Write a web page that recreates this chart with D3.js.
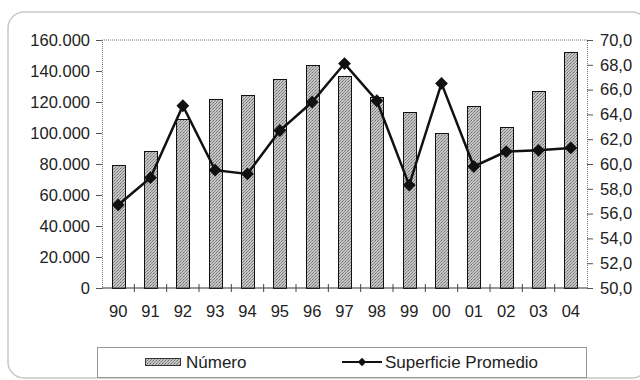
<!DOCTYPE html>
<html>
<head>
<meta charset="utf-8">
<script src="https://cdn.jsdelivr.net/npm/d3@7"></script>
<style>
  body { margin: 0; background: #fff; }
  svg { display: block; font-family: "Liberation Sans", Arial, sans-serif; }
</style>
</head>
<body>
<div id="chart"></div>
<script>
(function() {
    'use strict';

    // data
    const years = ["90", "91", "92", "93", "94", "95", "96", "97", "98", "99", "00", "01", "02", "03", "04"];
    const numero = [79500, 88500, 108800, 121700, 124500, 135000, 143900, 136800, 123000, 113700, 99800, 117400, 104100, 127300, 152300];
    const superficie = [56.7, 58.9, 64.7, 59.5, 59.2, 62.7, 65.0, 68.1, 65.1, 58.3, 66.5, 59.8, 61.0, 61.1, 61.3];
    const leftTicks = [0, 20000, 40000, 60000, 80000, 100000, 120000, 140000, 160000];
    const rightTicks = [50, 52, 54, 56, 58, 60, 62, 64, 66, 68, 70];

    const width = 640;
    const height = 380;
    const marginTop = 40;
    const marginBottom = 92;
    const marginLeft = 102;
    const marginRight = 53;

    const svg = d3.select("#chart")
        .append("svg")
        .attr("width", width)
        .attr("height", height);

    // bar texture
    const pat = svg.append("defs").append("pattern")
        .attr("id", "dots")
        .attr("width", 3)
        .attr("height", 3)
        .attr("patternUnits", "userSpaceOnUse");
    pat.append("rect").attr("width", 3).attr("height", 3).attr("fill", "#c4c4c4");
    pat.append("rect").attr("width", 1).attr("height", 1).attr("fill", "#6e6e6e");
    pat.append("rect").attr("x", 2).attr("y", 1).attr("width", 1).attr("height", 1).attr("fill", "#8c8c8c");
    pat.append("rect").attr("x", 1).attr("y", 2).attr("width", 1).attr("height", 1).attr("fill", "#8c8c8c");

    // outer frame
    svg.append("rect")
        .attr("x", 8).attr("y", 12)
        .attr("width", 640).attr("height", 366)
        .attr("rx", 16)
        .attr("fill", "none")
        .attr("stroke", "#c8c8c8")
        .attr("stroke-width", 1.5);

    // X SCALE
    const x = d3.scaleBand()
        .domain(years)
        .range([marginLeft, width - marginRight]);

    // Y SCALES
    const y = d3.scaleLinear()
        .domain([0, 160000])
        .range([height - marginBottom, marginTop]);

    const y2 = d3.scaleLinear()
        .domain([50, 70])
        .range([height - marginBottom, marginTop]);

    // top dotted border
    svg.append("line")
        .attr("x1", marginLeft).attr("x2", width - marginRight)
        .attr("y1", marginTop).attr("y2", marginTop)
        .attr("stroke", "#777")
        .attr("stroke-dasharray", "1,1");

    // LEFT AXIS
    svg.append("g")
        .attr("transform", `translate(${marginLeft}, 0)`)
        .call(d3.axisLeft(y)
            .tickValues(leftTicks)
            .tickSize(6)
            .tickPadding(6)
            .tickFormat(d => d3.format(",")(d).replace(/,/g, ".")))
        .call(g => g.selectAll("path").attr("stroke", "#777").attr("stroke-dasharray", "1,1"))
        .call(g => g.selectAll("line").attr("stroke", "#555"))
        .selectAll("text")
        .attr("fill", "#222")
        .attr("font-size", "16.5px")
        .attr("font-family", "Liberation Sans, Arial, sans-serif");

    // RIGHT AXIS
    svg.append("g")
        .attr("transform", `translate(${width - marginRight}, 0)`)
        .call(d3.axisRight(y2)
            .tickValues(rightTicks)
            .tickSize(6)
            .tickPadding(7)
            .tickFormat(d => d3.format(".1f")(d).replace(".", ",")))
        .call(g => g.selectAll("path").attr("stroke", "#777").attr("stroke-dasharray", "1,1"))
        .call(g => g.selectAll("line").attr("stroke", "#555"))
        .selectAll("text")
        .attr("fill", "#222")
        .attr("font-size", "16.5px")
        .attr("font-family", "Liberation Sans, Arial, sans-serif");

    // BARS
    svg.append("g")
        .selectAll("rect")
        .data(numero)
        .join("rect")
        .attr("x", (d, i) => Math.round(x(years[i]) + x.bandwidth() / 2 - 6.5) + 0.5)
        .attr("y", d => Math.round(y(d)) + 0.5)
        .attr("width", 13)
        .attr("height", d => y(0) - Math.round(y(d)))
        .attr("fill", "url(#dots)")
        .attr("stroke", "#111")
        .attr("stroke-width", 1);

    // X AXIS
    const xAxisY = height - marginBottom;
    svg.append("line")
        .attr("x1", marginLeft).attr("x2", width - marginRight)
        .attr("y1", xAxisY).attr("y2", xAxisY)
        .attr("stroke", "#333");

    svg.append("g")
        .selectAll("line")
        .data(years.slice(1))
        .join("line")
        .attr("x1", d => x(d)).attr("x2", d => x(d))
        .attr("y1", xAxisY - 4).attr("y2", xAxisY + 4)
        .attr("stroke", "#444");

    svg.append("g")
        .selectAll("text")
        .data(years)
        .join("text")
        .attr("x", d => x(d) + x.bandwidth() / 2)
        .attr("y", xAxisY + 29)
        .attr("text-anchor", "middle")
        .attr("fill", "#222")
        .attr("font-size", "16.5px")
        .text(d => d);

    // LINE
    const line = d3.line()
        .x((d, i) => x(years[i]) + x.bandwidth() / 2)
        .y(d => y2(d));

    svg.append("path")
        .datum(superficie)
        .attr("d", line)
        .attr("fill", "none")
        .attr("stroke", "#111")
        .attr("stroke-width", 2.5);

    const diamond = d3.symbol().type(d3.symbolDiamond2).size(105);

    svg.append("g")
        .selectAll("path")
        .data(superficie)
        .join("path")
        .attr("transform", (d, i) => `translate(${x(years[i]) + x.bandwidth() / 2}, ${y2(d)})`)
        .attr("d", diamond)
        .attr("fill", "#111");

    // LEGEND
    const legend = svg.append("g");
    legend.append("rect")
        .attr("x", 97.5).attr("y", 347.5)
        .attr("width", 489).attr("height", 30)
        .attr("fill", "#fff")
        .attr("stroke", "#999");

    legend.append("rect")
        .attr("x", 145.5).attr("y", 358.5)
        .attr("width", 35).attr("height", 7)
        .attr("fill", "url(#dots)")
        .attr("stroke", "#333");

    legend.append("text")
        .attr("x", 186).attr("y", 368)
        .attr("fill", "#222")
        .attr("font-size", "17px")
        .text("Número");

    legend.append("line")
        .attr("x1", 342).attr("x2", 382)
        .attr("y1", 362).attr("y2", 362)
        .attr("stroke", "#111")
        .attr("stroke-width", 2);

    legend.append("path")
        .attr("transform", "translate(362, 362)")
        .attr("d", d3.symbol().type(d3.symbolDiamond2).size(45))
        .attr("fill", "#111");

    legend.append("text")
        .attr("x", 385).attr("y", 368)
        .attr("fill", "#222")
        .attr("font-size", "17px")
        .text("Superficie Promedio");
})();
</script>
</body>
</html>
